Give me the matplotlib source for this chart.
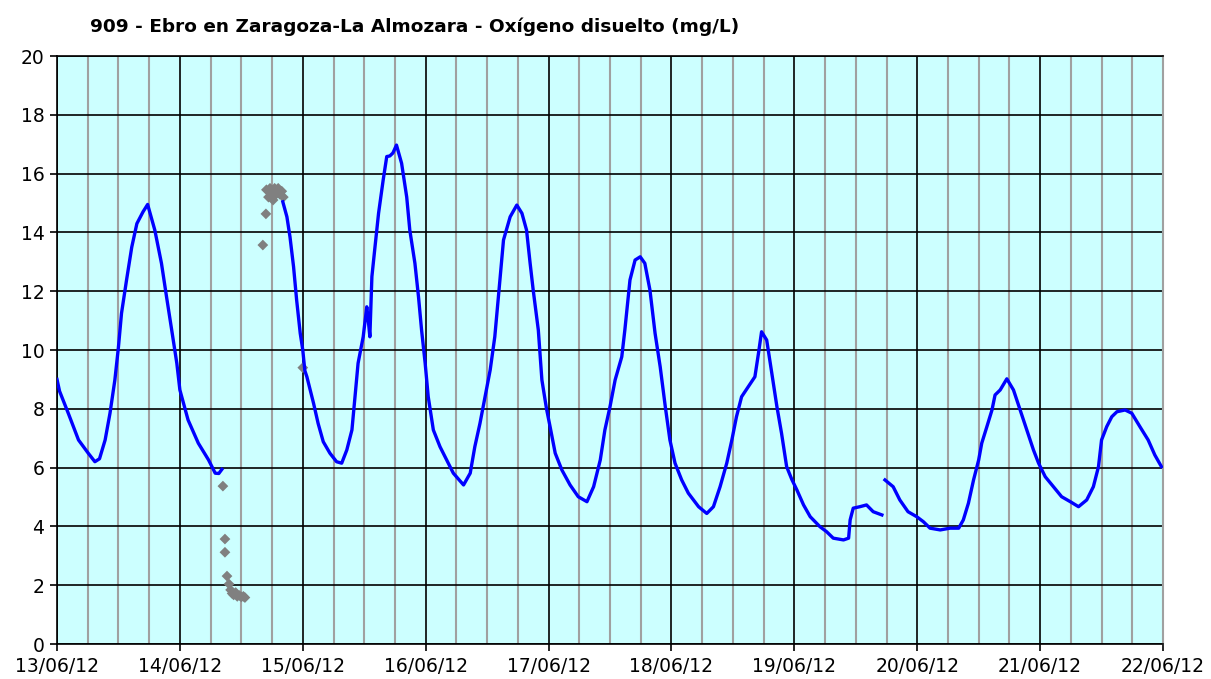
import numpy as np
import matplotlib
matplotlib.use("Agg")
import matplotlib.pyplot as plt
from matplotlib.ticker import MultipleLocator

title = "909 - Ebro en Zaragoza-La Almozara - Oxígeno disuelto (mg/L)"
day_labels = ["13/06/12", "14/06/12", "15/06/12", "16/06/12", "17/06/12",
              "18/06/12", "19/06/12", "20/06/12", "21/06/12", "22/06/12"]

# Valid data (blue line), time in hours since 13/06/12 00:00
seg1_hours = [0.0, 0.5, 2.2, 4.2, 6.1, 7.4, 8.3, 9.4, 10.35, 11.3, 12.0, 12.6, 13.6, 14.6,
              15.6, 16.8, 17.7, 19.1, 20.4, 21.4, 22.4, 23.4, 24.0, 25.6, 27.6, 29.6,
              30.9, 31.6, 32.2]
seg1_vals = [9.0, 8.6, 7.85, 6.94, 6.49, 6.2, 6.3, 6.94, 7.85, 8.98, 10.1, 11.25, 12.4, 13.5,
             14.3, 14.7, 14.95, 14.08, 12.95, 11.8, 10.68, 9.55, 8.64, 7.62, 6.83, 6.26,
             5.81, 5.8, 5.94]

seg2_hours = [44.1, 44.9, 45.5, 46.2, 46.8, 47.5, 48.0, 48.4, 48.8, 50.1, 51.0, 52.0, 53.3,
              54.6, 55.6, 56.6, 57.6, 58.2, 58.8, 59.8, 60.5, 60.8, 61.1, 61.5, 62.1, 62.8,
              63.7, 64.4, 65.0, 65.6, 66.3, 67.3, 68.3, 68.9, 69.9, 70.6, 71.2, 71.9, 72.5,
              73.5, 74.8, 76.1, 77.4, 79.4, 80.7, 81.6, 82.6, 83.6, 84.6, 85.5, 86.5, 87.2,
              88.5, 89.8, 90.8, 91.7, 92.4, 93.0, 94.0, 94.7, 95.6, 96.3, 97.3, 98.6, 100.2,
              101.8, 103.5, 104.8, 106.1, 107.0, 108.0, 109.0, 110.3, 110.9, 111.9, 112.9,
              113.9, 114.8, 115.8, 116.8, 117.8, 118.8, 119.7, 120.7, 122.0, 123.3, 125.3,
              126.9, 128.2, 129.5, 130.8, 131.8, 132.7, 133.7, 135.0, 136.3, 137.0, 137.6,
              138.6, 139.6, 140.6, 141.5, 142.5, 143.5, 144.5, 145.8, 147.1, 149.0, 150.3,
              151.6, 153.6, 154.6, 154.9, 155.5, 156.8, 158.1, 159.4, 161.1]
seg2_vals = [15.04, 14.53, 13.85, 12.83, 11.7, 10.57, 10.0, 9.3, 9.09, 8.19, 7.5, 6.88, 6.49,
             6.2, 6.15, 6.6, 7.28, 8.41, 9.55, 10.45, 11.47, 11.0, 10.45, 12.5, 13.5, 14.65,
             15.78, 16.58, 16.6, 16.7, 16.97, 16.35, 15.2, 14.08, 12.95, 11.81, 10.68, 9.55,
             8.41, 7.28, 6.71, 6.26, 5.81, 5.41, 5.81, 6.71, 7.5, 8.41, 9.32, 10.45, 12.38,
             13.74, 14.53, 14.93, 14.65, 14.08, 12.95, 12.04, 10.68, 8.98, 8.0, 7.39, 6.49,
             5.92, 5.41, 5.01, 4.84, 5.35, 6.26, 7.28, 8.07, 8.98, 9.77, 10.68, 12.38, 13.06,
             13.17, 12.95, 12.04, 10.57, 9.43, 8.07, 6.94, 6.15, 5.58, 5.13, 4.67, 4.44, 4.67,
             5.35, 6.15, 6.94, 7.73, 8.41, 8.75, 9.09, 9.89, 10.62, 10.34, 9.21, 8.07, 7.17,
             6.03, 5.6, 5.24, 4.73, 4.33, 3.99, 3.82, 3.6, 3.54, 3.6, 4.22, 4.62, 4.67, 4.73,
             4.5, 4.39]

seg3_hours = [161.7, 163.3, 164.6, 166.2, 167.9, 169.2, 170.5, 172.5, 174.4, 176.1, 177.0,
              178.0, 179.0, 180.0, 180.6, 181.6, 182.6, 183.2, 184.2, 185.5, 186.8, 188.1,
              189.4, 190.7, 191.7, 193.0, 194.6, 196.2, 197.9, 199.5, 201.1, 202.4, 203.4,
              204.0, 205.0, 206.0, 207.0, 208.6, 209.9, 211.5, 213.1, 214.4, 215.7]
seg3_vals = [5.58, 5.35, 4.9, 4.5, 4.33, 4.16, 3.94, 3.88, 3.94, 3.94, 4.22, 4.79, 5.58, 6.26,
             6.83, 7.39, 7.96, 8.47, 8.64, 9.02, 8.64, 7.96, 7.28, 6.6, 6.15, 5.69, 5.35, 5.01,
             4.84, 4.67, 4.9, 5.35, 6.03, 6.94, 7.39, 7.73, 7.9, 7.96, 7.85, 7.39, 6.94, 6.43,
             6.03]

# Invalid data (grey diamonds)
grey_hours = [32.4, 32.8, 32.8, 33.2, 33.6, 33.9, 34.2, 34.5, 34.9, 35.2, 35.6, 36.0, 36.4,
              36.7, 40.2, 40.8, 40.9, 41.3, 41.6, 41.9, 42.2, 42.5, 42.8, 43.2, 43.5, 43.9,
              44.2, 48.0]
grey_vals = [5.37, 3.57, 3.12, 2.31, 2.04, 1.84, 1.72, 1.67, 1.75, 1.62, 1.65, 1.6, 1.62,
             1.58, 13.57, 14.63, 15.45, 15.2, 15.5, 15.3, 15.1, 15.5, 15.3, 15.5, 15.3, 15.4,
             15.2, 9.4]

fig = plt.figure(figsize=(12.11, 6.79), dpi=100)
ax = fig.add_axes([57 / 1211, 1 - 644 / 679, (1163 - 57) / 1211, (644 - 56) / 679])
ax.set_facecolor("#CCFFFF")

for hrs, vals in [(seg1_hours, seg1_vals), (seg2_hours, seg2_vals), (seg3_hours, seg3_vals)]:
    ax.plot(np.array(hrs) / 24.0, vals, color="#0000FF", lw=2.4, zorder=4)

ax.scatter(np.array(grey_hours) / 24.0, grey_vals, marker="D", s=30, color="#808080",
           edgecolors="none", zorder=3)

ax.set_xlim(0, 9)
ax.set_ylim(0, 20)
ax.set_xticks(range(len(day_labels)))
ax.set_xticklabels(day_labels)
ax.xaxis.set_minor_locator(MultipleLocator(0.25))
ax.set_yticks(range(0, 21, 2))
ax.grid(which="minor", axis="x", color="#A0A0A0", lw=1.5, zorder=1)
ax.grid(which="major", axis="x", color="#000000", lw=1.2, zorder=2)
ax.grid(which="major", axis="y", color="#000000", lw=1.2, zorder=2)
ax.set_axisbelow(True)
ax.tick_params(axis="both", which="major", direction="out", length=5, width=1.2,
               labelsize=13.5, colors="black", pad=4)
ax.tick_params(axis="x", which="minor", length=0)
for s in ["left", "bottom", "top"]:
    ax.spines[s].set_color("black")
    ax.spines[s].set_linewidth(1.2)
ax.spines["right"].set_color("#A0A0A0")
ax.spines["right"].set_linewidth(1.5)

fig.text(90 / 1211, 1 - 27 / 679, title, fontsize=13.3, fontweight="bold",
         ha="left", va="center", color="black")

fig.savefig("out.png", dpi=100)
